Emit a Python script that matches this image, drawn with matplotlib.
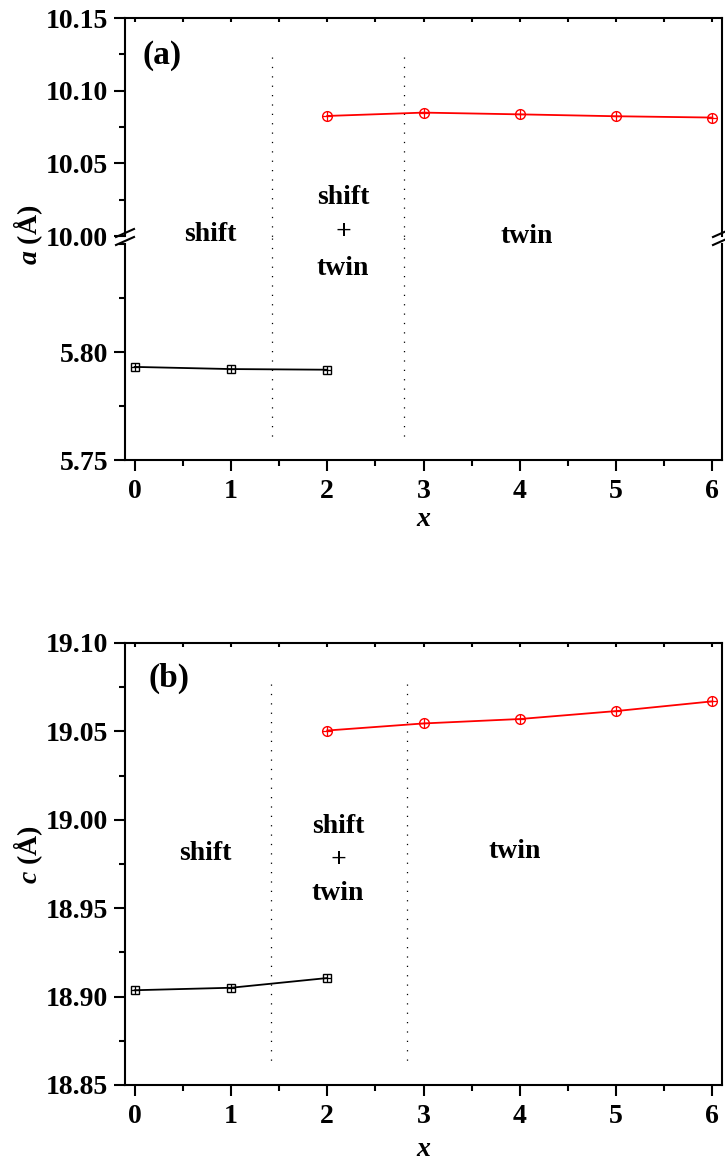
import matplotlib
matplotlib.use("Agg")
import matplotlib.pyplot as plt
from matplotlib.ticker import MultipleLocator, FormatStrFormatter
from matplotlib.lines import Line2D

plt.rcParams['font.family'] = ['Liberation Serif', 'DejaVu Serif']
plt.rcParams['font.weight'] = 'bold'
plt.rcParams['mathtext.fontset'] = 'custom'
plt.rcParams['mathtext.it'] = 'Liberation Serif:italic:bold'
plt.rcParams['mathtext.rm'] = 'Liberation Serif:bold'

# ---- data ----
x_shift = [0, 1, 2]
x_twin = [2, 3, 4, 5, 6]
a_shift = [5.7931, 5.7921, 5.7918]
a_twin = [10.0826, 10.0849, 10.0837, 10.0824, 10.0815]
c_shift = [18.9036, 18.9050, 18.9105]
c_twin = [19.0505, 19.0545, 19.0570, 19.0615, 19.0670]
boundaries_a = [1.43, 2.80]
boundaries_c = [1.42, 2.83]
xticks = [0, 1, 2, 3, 4, 5, 6]

W, H = 725, 1164
fig = plt.figure(figsize=(W / 100, H / 100), dpi=100)

def fr(px_left, px_top, px_right, px_bottom):
    return [px_left / W, 1 - px_bottom / H, (px_right - px_left) / W, (px_bottom - px_top) / H]

ax_top = fig.add_axes(fr(125, 18, 722, 236))
ax_bot = fig.add_axes(fr(125, 244, 722, 460))
ax_b = fig.add_axes(fr(125, 643, 722, 1085))

FS = 20
for ax in (ax_top, ax_bot, ax_b):
    ax.set_xlim(-0.1, 6.1)
    ax.patch.set_visible(False)
    for s in ax.spines.values():
        s.set_linewidth(1.5)
    ax.tick_params(axis='both', which='major', direction='out', length=8, width=1.5,
                   labelsize=FS, pad=4)
    ax.tick_params(axis='both', which='minor', direction='out', length=4, width=1.5)
    ax.tick_params(axis='x', which='both', top=True, pad=6)
    ax.tick_params(axis='y', which='both', right=False)
    ax.yaxis.set_minor_locator(MultipleLocator(0.025))
    ax.xaxis.set_major_locator(MultipleLocator(1))
    ax.xaxis.set_minor_locator(MultipleLocator(0.5))
    ax.yaxis.set_major_formatter(FormatStrFormatter('%.2f'))

ax_top.set_ylim(10.00, 10.15)
ax_top.set_yticks([10.00, 10.05, 10.10, 10.15])
ax_bot.set_ylim(5.75, 5.85)
ax_bot.set_yticks([5.75, 5.80])
ax_b.set_ylim(18.85, 19.10)
ax_b.set_yticks([18.85, 18.90, 18.95, 19.00, 19.05, 19.10])
ax_b.set_xticks(xticks)
ax_bot.set_xticks(xticks)

# broken axis styling
ax_top.spines['bottom'].set_visible(False)
ax_top.tick_params(axis='x', which='both', bottom=False, labelbottom=False)
ax_bot.spines['top'].set_visible(False)
ax_bot.tick_params(axis='x', which='both', top=False)

# top mirror ticks: small, pointing inward
for ax in (ax_top, ax_b):
    ax.xaxis.set_tick_params(which='both', top=True)
    for t in ax.xaxis.get_major_ticks() + ax.xaxis.get_minor_ticks():
        t.tick2line.set_markersize(3)
        t.tick2line.set_marker(3)  # TICKDOWN

for ax in (ax_top, ax_bot, ax_b):
    for lab in ax.get_xticklabels() + ax.get_yticklabels():
        lab.set_fontweight('bold')

# data
def plot_series(ax, xs, ys, color, marker, ms):
    ax.plot(xs, ys, color=color, lw=1.3, marker=marker, ms=ms, mfc='none',
            mec=color, mew=1.0, zorder=3)
    ax.plot(xs, ys, linestyle='none', marker='+', ms=ms, mec=color, mew=0.9, zorder=4)

plot_series(ax_top, x_twin, a_twin, 'red', 'o', 7)
plot_series(ax_bot, x_shift, a_shift, 'black', 's', 5.5)
plot_series(ax_b, x_twin, c_twin, 'red', 'o', 7)
plot_series(ax_b, x_shift, c_shift, 'black', 's', 5.5)

# dotted boundaries
dot = dict(color='black', lw=0.9, linestyle=(0, (1, 6.5)), zorder=1)
for xb in boundaries_a:
    ax_top.plot([xb, xb], [10.123, 9.995], clip_on=False, **dot)
    ax_bot.plot([xb, xb], [5.853, 5.760], clip_on=False, **dot)
for xb in boundaries_c:
    ax_b.plot([xb, xb], [19.077, 18.861], **dot)

# break marks
for xf in (125 / W, 722 / W):
    for yp in (233, 241):
        yf = 1 - yp / H
        fig.add_artist(Line2D([xf - 9 / W, xf + 9 / W], [yf - 4 / H, yf + 4 / H],
                              color='black', lw=1.5))

# region labels (figure pixel positions)
def ftext(px, py, s, **kw):
    fig.text(px / W, 1 - py / H, s, fontsize=FS, fontweight='bold',
             ha='center', va='center', **kw)

ftext(210, 235, 'shift')
ftext(343, 233, 'shift\n+\ntwin', linespacing=1.55)
ftext(527, 237, 'twin')
ftext(205, 853, 'shift')
ftext(338, 860, 'shift\n+\ntwin', linespacing=1.45)
ftext(515, 852, 'twin')

ax_top.text(0.29, 10.124, '(a)', fontsize=24, fontweight='bold', ha='center', va='center')
ax_b.text(0.36, 19.080, '(b)', fontsize=24, fontweight='bold', ha='center', va='center')

# axis labels
fig.text(28 / W, 1 - 235 / H, r'$a$ (Å)', rotation=90, fontsize=FS, fontweight='bold',
         ha='center', va='center')
fig.text(28 / W, 1 - 855 / H, r'$c$ (Å)', rotation=90, fontsize=FS, fontweight='bold',
         ha='center', va='center')
fig.text(424 / W, 1 - 520 / H, r'$x$', fontsize=FS, ha='center', va='center')
fig.text(424 / W, 1 - 1150 / H, r'$x$', fontsize=FS, ha='center', va='center')

fig.savefig('out.png', dpi=100)
